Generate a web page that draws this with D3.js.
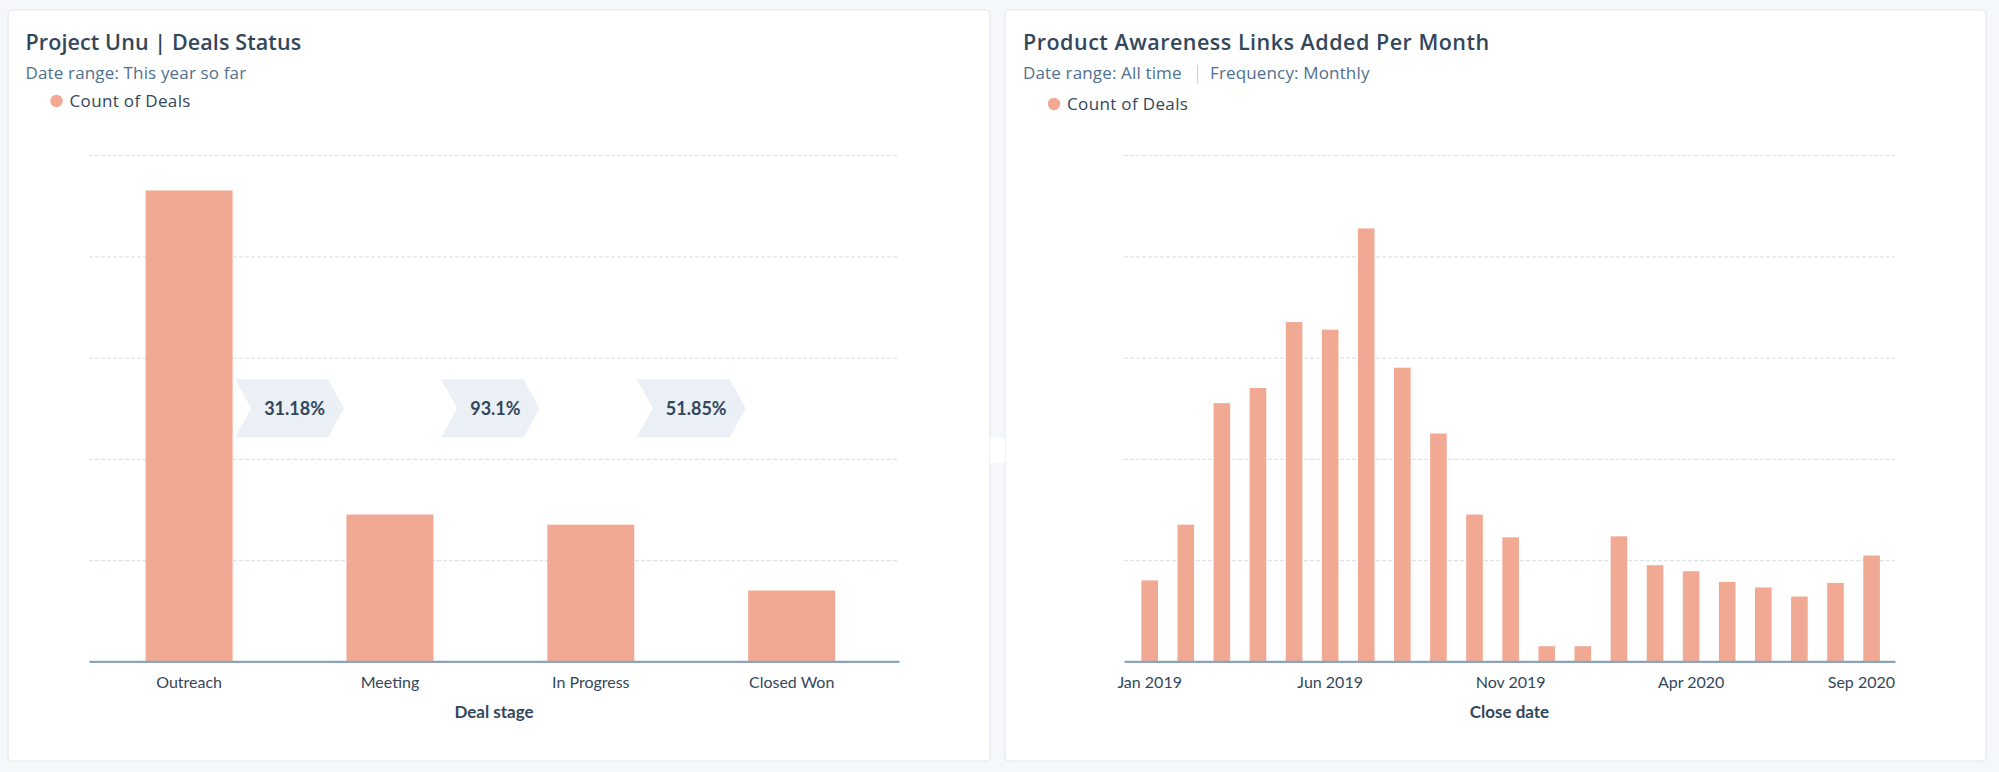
<!DOCTYPE html>
<html>
<head>
<meta charset="utf-8">
<script src="https://cdn.jsdelivr.net/npm/d3@7"></script>
<style>
  html, body { margin: 0; padding: 0; background: #f5f8fa; }
  svg { display: block; font-family: "Lato", "Open Sans", sans-serif; }
</style>
</head>
<body>
<svg id="chart" width="1999" height="772"></svg>
<script>
// ---------- data ----------
const stageCategories = ["Outreach", "Meeting", "In Progress", "Closed Won"];
const stageCounts = [93, 29, 27, 14];
const conversionLabels = ["31.18%", "93.1%", "51.85%"];

const monthCategories = [
  "Jan 2019","Feb 2019","Mar 2019","Apr 2019","May 2019","Jun 2019","Jul 2019",
  "Aug 2019","Sep 2019","Oct 2019","Nov 2019","Dec 2019","Jan 2020","Feb 2020",
  "Mar 2020","Apr 2020","May 2020","Jun 2020","Jul 2020","Aug 2020","Sep 2020"
];
const monthCounts = [16, 27, 51, 54, 67, 65.5, 85.5, 58, 45, 29, 24.5, 3, 3, 24.7, 19, 17.8, 15.7, 14.6, 12.8, 15.5, 20.9];
const monthTickLabels = ["Jan 2019", "Jun 2019", "Nov 2019", "Apr 2020", "Sep 2020"];
const yTicks = [20, 40, 60, 80, 100];

// ---------- style ----------
const BAR = "#f1a993";
const DARK = "#33475b";
const MID = "#516f90";
const GRID = "#dfe3eb";
const AXIS = "#8ea3ba";
const HEAD_FONT = "'Open Sans', Lato, sans-serif";

const svg = d3.select("#chart");

// cards
const cards = [
  { x: 8, y: 10, w: 982, h: 751 },
  { x: 1005, y: 10, w: 981, h: 751 }
];
svg.selectAll("rect.card").data(cards).join("rect")
  .attr("class", "card")
  .attr("x", d => d.x).attr("y", d => d.y)
  .attr("width", d => d.w).attr("height", d => d.h)
  .attr("rx", 4)
  .attr("fill", "#ffffff")
  .attr("stroke", "#e1e6ec")
  .attr("stroke-width", 1);

// small white patch in the gap between cards
svg.append("rect").attr("x", 990).attr("y", 438).attr("width", 15).attr("height", 25).attr("fill", "#ffffff");

function header(g, x, title, legendDy, titleSpacing) {
  g.append("text").attr("x", x).attr("y", 50)
    .attr("fill", DARK).attr("font-size", 21.5).attr("font-weight", 600)
    .attr("letter-spacing", titleSpacing)
    .attr("font-family", HEAD_FONT)
    .text(title);
  g.append("circle").attr("cx", x + 31).attr("cy", 101 + legendDy).attr("r", 6.2).attr("fill", BAR);
  g.append("text").attr("x", x + 44).attr("y", 106.5 + legendDy)
    .attr("fill", DARK).attr("font-size", 17).attr("letter-spacing", 0.35)
    .attr("font-family", HEAD_FONT).text("Count of Deals");
}

const y = d3.scaleLinear().domain([0, 100]).range([661.4, 155]);

function gridAndAxis(g, x, r0, r1) {
  const grid = g.append("g").attr("transform", `translate(${r0},0)`)
    .call(d3.axisLeft(y).tickValues(yTicks).tickSize(-(r1 - r0)).tickFormat(""));
  grid.select(".domain").remove();
  grid.selectAll("line").attr("stroke", GRID).attr("stroke-width", 1.2).attr("stroke-dasharray", "4,2");
}

function bottomAxis(g, x, r0, r1, axisTitle, tickVals) {
  const axis = d3.axisBottom(x).tickSize(0).tickPadding(15).tickSizeOuter(0);
  if (tickVals) axis.tickValues(tickVals);
  const ax = g.append("g").attr("transform", `translate(0,${y(0)})`).call(axis);
  ax.select(".domain").attr("stroke", AXIS).attr("stroke-width", 2.2);
  ax.selectAll("text").attr("fill", DARK).attr("font-size", 16).attr("font-family", "Lato, sans-serif");
  ax.selectAll(".tick").each(function () {
    const t = d3.select(this).select("text");
    const bb = t.node().getBBox();
    const tr = d3.select(this).attr("transform");
    const tx = +tr.match(/translate\(([-\d.]+)/)[1];
    if (tx + bb.x + bb.width > r1) t.attr("text-anchor", "end").attr("x", r1 - tx);
  });
  g.append("text").attr("x", (r0 + r1) / 2).attr("y", 718)
    .attr("text-anchor", "middle").attr("fill", DARK)
    .attr("font-size", 17).attr("font-weight", 700).text(axisTitle);
}

// ---------- left chart ----------
const gL = svg.append("g");
header(gL, 25.5, "Project Unu | Deals Status", 0, 0.1);
gL.append("text").attr("x", 25.5).attr("y", 79).attr("fill", MID).attr("font-size", 17)
  .attr("letter-spacing", 0.15)
  .attr("font-family", HEAD_FONT).text("Date range: This year so far");

const xL = d3.scaleBand().domain(stageCategories).range([89, 899])
  .paddingInner(0.567).paddingOuter(0.3).align(0.47);
gridAndAxis(gL, xL, 89, 899);
gL.selectAll("rect.bar").data(stageCounts).join("rect")
  .attr("class", "bar")
  .attr("x", (d, i) => xL(stageCategories[i]))
  .attr("y", d => y(d))
  .attr("width", xL.bandwidth())
  .attr("height", d => y(0) - y(d))
  .attr("fill", BAR);

// conversion chevrons
const chevH = 58, chevD = 16, chevCy = y(50);
conversionLabels.forEach((lab, i) => {
  const gapL = xL(stageCategories[i]) + xL.bandwidth();
  const gapR = xL(stageCategories[i + 1]);
  const cx = (gapL + gapR) / 2;
  const cg = gL.append("g");
  const poly = cg.append("polygon");
  const t = cg.append("text").attr("x", cx + 5).attr("y", chevCy).attr("dy", "0.36em")
    .attr("text-anchor", "middle").attr("fill", DARK)
    .attr("font-size", 18).attr("font-weight", 700).text(lab);
  const tw = t.node().getComputedTextLength();
  const w = Math.min(gapR - gapL, tw + 48);
  const x0 = cx - w / 2, x1 = cx + w / 2;
  const top = chevCy - chevH / 2, bot = chevCy + chevH / 2;
  poly.attr("points", [[x0, top], [x1 - chevD, top], [x1, chevCy], [x1 - chevD, bot], [x0, bot], [x0 + chevD, chevCy]].map(p => p.join(",")).join(" "))
    .attr("fill", "#eaf0f6");
});
bottomAxis(gL, xL, 89, 899, "Deal stage");

// ---------- right chart ----------
const gR = svg.append("g");
header(gR, 1023, "Product Awareness Links Added Per Month", 3, 0.5);
gR.append("text").attr("x", 1023).attr("y", 79).attr("fill", MID).attr("font-size", 17)
  .attr("letter-spacing", 0.15)
  .attr("font-family", HEAD_FONT).text("Date range: All time");
gR.append("line").attr("x1", 1197.5).attr("x2", 1197.5).attr("y1", 65).attr("y2", 84)
  .attr("stroke", "#cbd6e2").attr("stroke-width", 1.2);
gR.append("text").attr("x", 1210).attr("y", 79).attr("fill", MID).attr("font-size", 17)
  .attr("letter-spacing", 0.15)
  .attr("font-family", HEAD_FONT).text("Frequency: Monthly");

const xR = d3.scaleBand().domain(monthCategories).range([1124, 1895])
  .paddingInner(0.54).paddingOuter(0.45).align(0.535);
gridAndAxis(gR, xR, 1124, 1895);
gR.selectAll("rect.bar").data(monthCounts).join("rect")
  .attr("class", "bar")
  .attr("x", (d, i) => xR(monthCategories[i]))
  .attr("y", d => y(d))
  .attr("width", xR.bandwidth())
  .attr("height", d => y(0) - y(d))
  .attr("fill", BAR);
bottomAxis(gR, xR, 1124, 1895, "Close date", monthTickLabels);
</script>
</body>
</html>
